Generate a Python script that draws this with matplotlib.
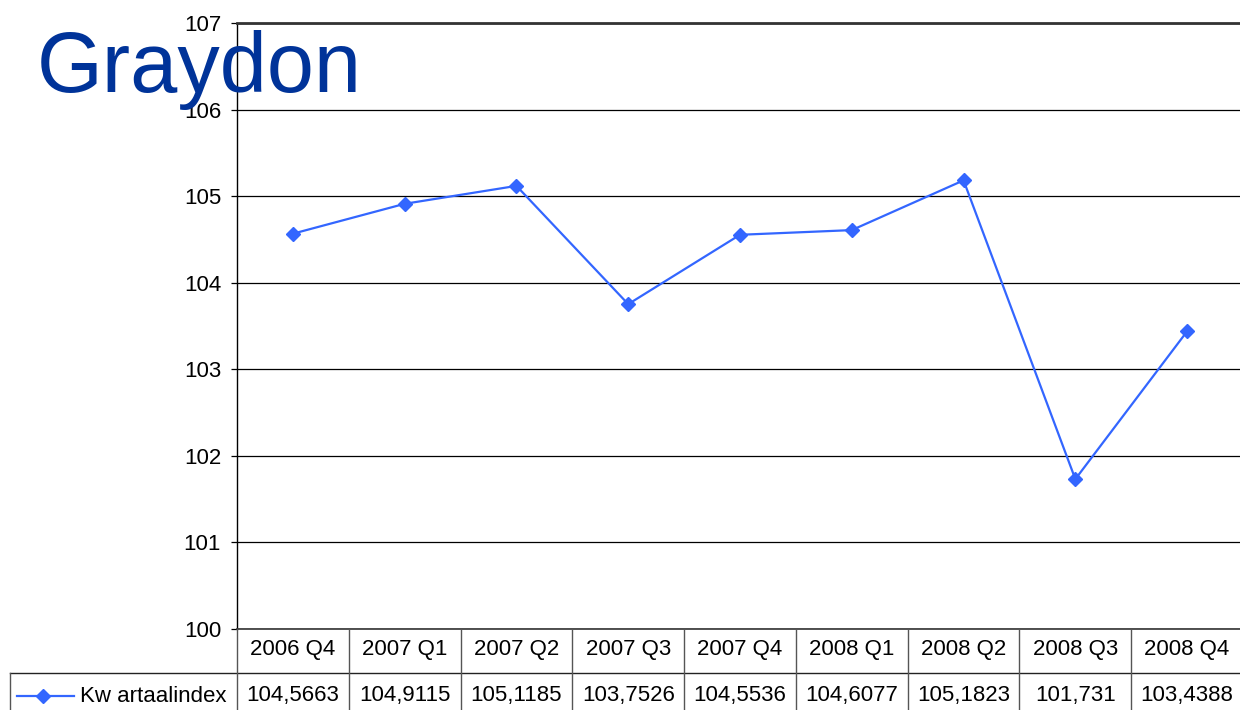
import numpy as np
import matplotlib.pyplot as plt
from matplotlib.lines import Line2D

plt.rcParams['font.family'] = ['Liberation Sans', 'DejaVu Sans']

quarters = ["2006 Q4", "2007 Q1", "2007 Q2", "2007 Q3", "2007 Q4",
            "2008 Q1", "2008 Q2", "2008 Q3", "2008 Q4"]
kwartaalindex = [104.5663, 104.9115, 105.1185, 103.7526, 104.5536,
                 104.6077, 105.1823, 101.731, 103.4388]
series_name = "Kw artaalindex"
yticks = [100, 101, 102, 103, 104, 105, 106, 107]

W, H = 1240, 710
fig = plt.figure(figsize=(W / 100, H / 100), dpi=100)

def fx(px):
    return px / W

def fy(py):
    return 1 - py / H

left, right, top, bottom = 237, 1243, 23, 629
ax = fig.add_axes([fx(left), fy(bottom), fx(right - left), fy(top) - fy(bottom)])

blue = "#3366FF"
fs = 16
x = np.arange(len(quarters))
ax.plot(x, kwartaalindex, color=blue, lw=1.6, marker="D", ms=7.5, zorder=3, clip_on=False)

ax.set_xlim(-0.5, len(quarters) - 0.5)
ax.set_ylim(100, 107)
ax.set_yticks(yticks)
ax.set_yticklabels([str(t) for t in yticks], fontsize=fs)
ax.set_xticks([])
ax.grid(axis="y", color="black", lw=0.9)
ax.tick_params(axis="y", length=4.5, width=0.9, pad=7, color="black")
ax.set_axisbelow(True)
for s in ["right", "bottom"]:
    ax.spines[s].set_visible(False)
ax.spines["left"].set_linewidth(1.0)
ax.spines["top"].set_linewidth(2.0)
ax.spines["top"].set_color("#333333")

# data table beneath the plot
edge = "#555555"
row1_top, row1_bot, row2_bot = 629, 673, 712
colw = (right - left) / len(quarters)

def hline(y0, x0, x1, lw=1.0, c=edge):
    fig.add_artist(Line2D([fx(x0), fx(x1)], [fy(y0), fy(y0)], color=c, lw=lw))

def vline(x0, y0, y1, lw=1.0, c=edge):
    fig.add_artist(Line2D([fx(x0), fx(x0)], [fy(y0), fy(y1)], color=c, lw=lw))

hline(row1_top, left, W, lw=1.2, c="#333333")
hline(row1_bot, 10, W, c="#222222")
vline(10, row1_bot, row2_bot)
for i in range(len(quarters) + 1):
    vline(left + i * colw, row1_top, row2_bot)

for i, (q, v) in enumerate(zip(quarters, kwartaalindex)):
    cx = left + (i + 0.5) * colw
    fig.text(fx(cx), fy(650), q, ha="center", va="center", fontsize=fs)
    fig.text(fx(cx), fy(696), str(v).replace(".", ","),
             ha="center", va="center", fontsize=fs)

ly = 696
fig.add_artist(Line2D([fx(17), fx(74)], [fy(ly), fy(ly)], color=blue, lw=1.6))
fig.add_artist(Line2D([fx(43)], [fy(ly)], color=blue, marker="D", ms=7.5, lw=0))
fig.text(fx(80), fy(ly), series_name, ha="left", va="center", fontsize=fs)

# slide title overlapping the chart
fig.text(fx(37), fy(92), "Graydon", color="#003399", fontsize=61, ha="left",
         va="baseline")

fig.savefig("out.png", dpi=100, facecolor="white")
